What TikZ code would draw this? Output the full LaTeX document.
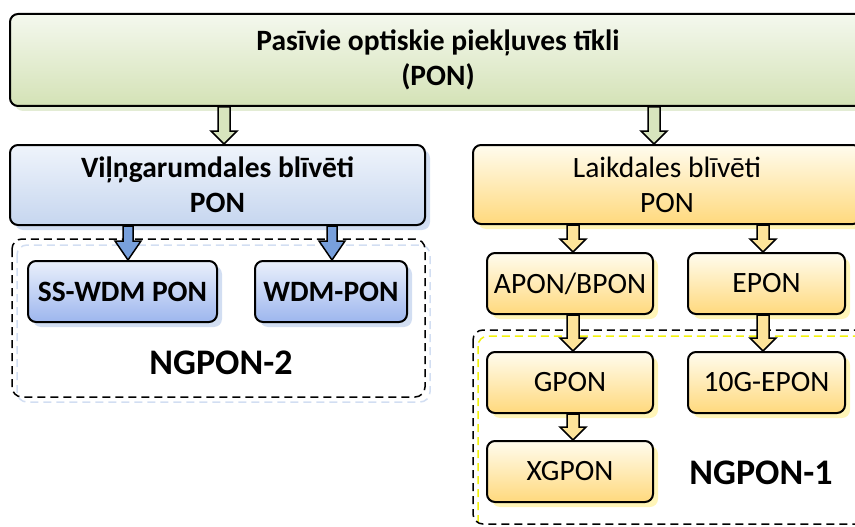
\documentclass[tikz,border=0pt]{standalone}
\usepackage{fontspec}
\setmainfont{Carlito}
\usetikzlibrary{calc,shadows}

\definecolor{gTop}{HTML}{F4F8EE}
\definecolor{gBot}{HTML}{D4E2B6}
\definecolor{gShade}{HTML}{E3ECD4}
\definecolor{gArrow}{HTML}{D7E4BD}
\definecolor{bTop}{HTML}{EFF4FB}
\definecolor{bBot}{HTML}{C6D6EF}
\definecolor{bLeafTop}{HTML}{EAF0FB}
\definecolor{bLeafBot}{HTML}{9DB6EE}
\definecolor{bShade}{HTML}{D2DEF2}
\definecolor{bArrow}{HTML}{78A0DC}
\definecolor{yTop}{HTML}{FFFCEE}
\definecolor{yBot}{HTML}{FFD97D}
\definecolor{yShade}{HTML}{FFF5B8}
\definecolor{yArrow}{HTML}{FDE49A}
\definecolor{yGlow}{HTML}{F2F20A}

\newcommand\arrowheadlen{13pt}
\newcommand\shafthalf{6pt}
\newcommand\boxfont{\fontsize{29.5}{35}\selectfont}

\tikzset{
  x=1pt, y=-1pt,
  box/.style={draw=black, line width=2pt, rounded corners=8pt,
    align=center, inner sep=0pt},
  greenbox/.style={box, top color=gTop, bottom color=gBot, font=\boxfont\bfseries,
    drop shadow={fill=gShade, opacity=1, shadow xshift=5pt, shadow yshift=-5pt}},
  bluebox/.style={box, top color=bTop, bottom color=bBot, font=\boxfont\bfseries,
    drop shadow={fill=bShade, opacity=1, shadow xshift=5pt, shadow yshift=-5pt}},
  blueleaf/.style={box, top color=bLeafTop, bottom color=bLeafBot, font=\boxfont\bfseries,
    drop shadow={fill=bShade, opacity=1, shadow xshift=5pt, shadow yshift=-5pt}},
  yellowbox/.style={box, top color=yTop, bottom color=yBot, font=\boxfont,
    drop shadow={fill=yShade, opacity=1, shadow xshift=5pt, shadow yshift=-5pt}},
  groupframe/.style={draw=black, line width=1.5pt, rounded corners=10pt,
    dash pattern=on 8pt off 5pt},
  groupglow/.style={line width=1.5pt, rounded corners=10pt,
    dash pattern=on 8pt off 5pt},
  headlen/.code={\def\arrowheadlen{#1}},
  shafthalf/.code={\def\shafthalf{#1}},
  blockarrow/.style={draw=black, line width=1.5pt, line join=miter,
    to path={let \p1=(\tikztostart), \p2=(\tikztotarget) in
      (\x1-\shafthalf,\y1) -- (\x1-\shafthalf,\y2+\arrowheadlen) -- (\x1-13pt,\y2+\arrowheadlen)
      -- (\x1,\y2) -- (\x1+13pt,\y2+\arrowheadlen) -- (\x1+\shafthalf,\y2+\arrowheadlen)
      -- (\x1+\shafthalf,\y1) -- cycle}},
  grouplabel/.style={font=\fontsize{36}{40}\selectfont\bfseries, inner sep=0pt},
}

\begin{document}
\begin{tikzpicture}
\useasboundingbox (0,0) rectangle (855,527);
\clip (0,0) rectangle (855,527);

% group frames (drawn first, behind the boxes)
\draw[groupglow, draw=bShade] (17,245) rectangle (430,402);
\draw[groupframe] (12,239) rectangle (425,397);
\draw[groupglow, draw=yGlow] (478,336) rectangle (880,540);
\draw[groupframe] (473,330) rectangle (875,524);

% boxes
\node[greenbox, minimum width=856, minimum height=92] (pon) at (438,60)
  {Pasīvie optiskie piekļuves tīkli\\(PON)};
\node[bluebox, minimum width=415, minimum height=80] (wdm) at (217.5,185)
  {Viļņgarumdales blīvēti\\PON};
\node[yellowbox, minimum width=388, minimum height=79] (tdm) at (667,184.5)
  {Laikdales blīvēti\\PON};

\node[blueleaf, minimum width=189, minimum height=61] (sswdm) at (122.5,291.5) {SS-WDM PON};
\node[blueleaf, minimum width=152, minimum height=61] (wdmpon) at (331,291.5) {WDM-PON};

\node[yellowbox, minimum width=166, minimum height=61] (apon) at (570,283.5) {APON/BPON};
\node[yellowbox, minimum width=157, minimum height=61] (epon) at (766.5,283.5) {EPON};
\node[yellowbox, minimum width=166, minimum height=61] (gpon) at (570,382.5) {GPON};
\node[yellowbox, minimum width=157, minimum height=61] (tenepon) at (766.5,382.5) {10G-EPON};
\node[yellowbox, minimum width=166, minimum height=61] (xgpon) at (570,471.5) {XGPON};

% group labels
\node[grouplabel] (ng2) at (221,363) {NGPON-2};
\node[grouplabel] (ng1) at (761,473) {NGPON-1};

% arrow columns
\coordinate (c1) at (224,0);
\coordinate (c2) at (654,0);
\coordinate (c3) at (128,0);
\coordinate (c4) at (332,0);
\coordinate (c5) at (573,0);
\coordinate (c6) at (763,0);

% block arrows
\draw[blockarrow, fill=gArrow] (pon.south -| c1) to (wdm.north);
\draw[blockarrow, fill=gArrow] (pon.south -| c2) to (tdm.north);
\draw[blockarrow, fill=bArrow, headlen=19pt, shafthalf=5pt] (wdm.south -| c3) to (sswdm.north);
\draw[blockarrow, fill=bArrow, headlen=19pt, shafthalf=5pt] (wdm.south -| c4) to (wdmpon.north);
\draw[blockarrow, fill=yArrow] (tdm.south -| c5) to (apon.north);
\draw[blockarrow, fill=yArrow] (tdm.south -| c6) to (epon.north);
\draw[blockarrow, fill=yArrow] (apon.south -| c5) to (gpon.north);
\draw[blockarrow, fill=yArrow] (epon.south -| c6) to (tenepon.north);
\draw[blockarrow, fill=yArrow] (gpon.south -| c5) to (xgpon.north);
\end{tikzpicture}
\end{document}
